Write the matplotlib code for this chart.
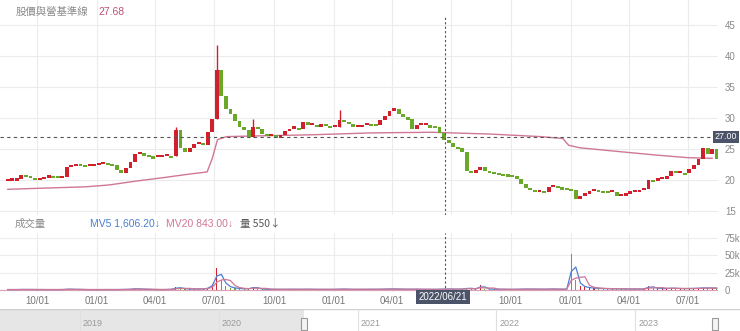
import matplotlib
matplotlib.use("Agg")
import matplotlib.pyplot as plt
import matplotlib.dates as mdates
import matplotlib.transforms as mtrans
from matplotlib.patches import Rectangle
import numpy as np
import pandas as pd

plt.rcParams['font.family'] = ['Liberation Sans', 'Noto Sans CJK TC', 'DejaVu Sans']

# ---------------- data ----------------
start_date = "2020-08-17"
closes = [19.9, 19.9, 20.1, 20.8, 20.6, 20.3, 20.0, 20.2, 20.4, 20.7,
          20.6, 20.3, 20.5, 22.1, 22.3, 22.6, 22.4, 22.2, 22.2, 22.4,
          22.6, 22.7, 22.6, 22.4, 21.6, 21.2, 21.9, 22.9, 24.2, 24.3,
          24.1, 23.8, 23.7, 23.7, 23.8, 23.9, 23.8, 28.0, 25.2, 24.5,
          25.1, 25.8, 26.0, 25.7, 27.7, 29.8, 37.8, 33.5, 31.5, 30.6,
          29.5, 28.5, 28.0, 27.0, 28.6, 28.2, 27.4, 27.1, 27.3, 26.8,
          27.2, 27.9, 28.3, 28.4, 28.3, 29.3, 28.9, 28.9, 28.6, 29.1,
          28.7, 28.5, 28.6, 29.7, 29.4, 29.0, 28.6, 28.6, 28.9, 29.1,
          29.0, 28.8, 29.7, 30.4, 31.2, 31.4, 30.6, 30.1, 29.9, 28.3,
          28.8, 28.8, 28.8, 28.7, 28.6, 27.6, 26.4, 25.9, 25.3, 25.2,
          24.5, 21.5, 21.2, 21.6, 22.1, 21.5, 21.3, 21.2, 21.0, 20.9,
          20.8, 20.6, 20.1, 19.3, 18.7, 18.4, 18.1, 18.2, 18.0, 18.9,
          19.1, 18.8, 18.7, 18.6, 18.4, 17.0, 17.5, 17.7, 18.2, 18.4,
          18.3, 18.2, 18.1, 18.1, 17.4, 17.5, 17.8, 18.0, 18.0, 18.4,
          18.5, 20.0, 19.9, 20.1, 20.2, 20.7, 21.5, 21.1, 21.2, 21.1,
          21.8, 22.5, 23.4, 25.2, 24.2, 25.0, 23.4]
first_open = 19.8
spike_highs = {37: 28.6, 46: 41.8, 54: 29.9, 73: 31.3}

volumes_k = [0.6, 0.5, 0.7, 0.9, 0.6, 0.5, 0.5, 0.6, 0.5, 0.7,
             0.6, 0.5, 0.6, 1.5, 0.9, 0.8, 0.6, 0.5, 0.6, 0.6,
             0.6, 0.7, 0.6, 0.5, 0.7, 0.8, 0.7, 1.4, 2.0, 1.2,
             0.9, 0.8, 0.7, 0.6, 0.6, 0.8, 1.2, 4.0, 2.5, 1.5,
             1.2, 1.5, 1.6, 1.4, 3.5, 9.0, 31.0, 14.0, 6.0, 3.5,
             2.5, 2.0, 1.6, 1.8, 5.0, 1.6, 1.2, 1.0, 0.9, 0.9,
             0.9, 1.0, 1.1, 1.0, 0.9, 1.2, 1.0, 0.9, 0.8, 0.9,
             0.8, 0.8, 0.8, 1.5, 1.1, 0.9, 0.8, 0.8, 0.9, 0.9,
             0.9, 0.8, 1.2, 1.4, 1.5, 1.4, 1.1, 1.0, 0.9, 1.4,
             1.0, 0.9, 0.9, 0.8, 0.8, 1.1, 1.5, 1.3, 1.2, 1.1,
             1.4, 3.0, 1.8, 1.5, 7.0, 1.6, 1.2, 1.1, 1.0, 0.9,
             0.9, 0.9, 1.0, 1.3, 1.4, 1.2, 1.1, 1.0, 1.0, 1.6,
             1.3, 1.1, 1.0, 1.2, 52.0, 14.0, 6.0, 4.0, 3.0, 2.5,
             2.2, 2.0, 1.8, 1.6, 1.8, 1.5, 1.4, 1.3, 1.3, 1.5,
             1.6, 6.0, 3.0, 2.4, 2.0, 2.4, 2.8, 2.2, 2.0, 1.9,
             2.2, 2.4, 2.6, 3.2, 2.6, 2.8, 2.4]

baseline_dates = ["2020-08-17", "2020-10-15", "2020-12-15", "2021-01-20",
                  "2021-03-01", "2021-04-15", "2021-05-20", "2021-06-20",
                  "2021-06-28", "2021-07-06", "2021-07-20", "2021-09-01",
                  "2021-12-01", "2022-03-01", "2022-06-01", "2022-09-01",
                  "2022-11-15", "2022-12-20", "2022-12-29", "2023-01-15",
                  "2023-03-15", "2023-05-15", "2023-07-01", "2023-08-07"]
baseline_vals = [18.5, 18.7, 18.9, 19.2, 19.8, 20.4, 20.9, 21.3,
                 23.5, 26.5, 27.0, 27.1, 27.3, 27.6, 27.7, 27.4,
                 27.0, 26.7, 25.6, 25.2, 24.6, 24.0, 23.6, 23.5]

quarter_ticks = ["2020-10-01", "2021-01-01", "2021-04-01", "2021-07-01",
                 "2021-10-01", "2022-01-01", "2022-04-01", "2022-07-01",
                 "2022-10-01", "2023-01-01", "2023-04-01", "2023-07-01"]
price_ticks = [15, 20, 25, 30, 35, 40, 45]
vol_ticks = [0, 25, 50, 75]
vol_tick_labels = ["0", "25k", "50k", "75k"]
nav_years = [2019, 2020, 2021, 2022, 2023]

title_text = "股價與營基準線"
title_value = "27.68"
cross_date = "2022-06-21"
cross_price = 27.00
mv5_text = "MV5 1,606.20↓"
mv20_text = "MV20 843.00↓"
vol_text = "量 550↓"

# ---------------- styling ----------------
RED = "#d0202e"
GREEN = "#6aa82a"
PINK = "#d07794"
BLUE = "#4a7fd4"
GRID = "#ececec"
TXT = "#8a8a8a"
DARK = "#4b5368"

W, H = 740, 331
fig = plt.figure(figsize=(W / 100, H / 100), dpi=100)
fig.patch.set_facecolor("white")


def px_axes(x0, y0, x1, y1):
    return fig.add_axes([x0 / W, 1 - y1 / H, (x1 - x0) / W, (y1 - y0) / H])


dates = pd.date_range(start_date, periods=len(closes), freq="7D")
dnum = mdates.date2num(dates.to_pydatetime())
closes_a = np.array(closes)
opens_a = np.concatenate([[first_open], closes_a[:-1]])
up = closes_a >= opens_a

xmin = mdates.date2num(pd.Timestamp("2020-08-05"))
xmax = mdates.date2num(pd.Timestamp("2023-08-16"))

# ---------------- price panel ----------------
ax = px_axes(0, 0, 718, 215)
px_per_unit = 6.2
ax.set_ylim(15 - 4 / px_per_unit, 45 + 25 / px_per_unit)
ax.set_xlim(xmin, xmax)
for s in ax.spines.values():
    s.set_visible(False)
ax.set_yticks(price_ticks)
ax.yaxis.tick_right()
ax.tick_params(axis="y", length=0, pad=5, labelsize=7, labelcolor=TXT)
ax.set_xticks(mdates.date2num(pd.to_datetime(quarter_ticks)))
ax.tick_params(axis="x", length=0, labelbottom=False)
ax.grid(True, color=GRID, lw=0.8)
ax.set_axisbelow(True)

body_w = 6.0
min_h = 0.35
heights = closes_a - opens_a
heights = np.where(np.abs(heights) < min_h, np.where(up, min_h, -min_h), heights)
colors = np.where(up, RED, GREEN)
for idx, hi in spike_highs.items():
    lo = min(opens_a[idx], closes_a[idx])
    ax.vlines(dnum[idx], lo, hi, color=colors[idx], lw=1.0, zorder=3)
ax.bar(dnum, heights, bottom=opens_a, width=body_w, color=colors, zorder=3, lw=0)

bd = mdates.date2num(pd.to_datetime(baseline_dates))
ax.plot(bd, baseline_vals, color=PINK, lw=1.0, zorder=2)

cx = mdates.date2num(pd.Timestamp(cross_date))
ax.axhline(cross_price, color="#555555", lw=0.8, ls=(0, (3, 3)), zorder=4)
ax.axvline(cx, color="#555555", lw=0.8, ls=(0, (2, 2)), ymax=0.93, zorder=4)
ax.text(737 / 718, cross_price, f"{cross_price:.2f}",
        transform=mtrans.blended_transform_factory(ax.transAxes, ax.transData),
        ha="right", va="center", fontsize=6.4, color="white", zorder=6,
        bbox=dict(boxstyle="square,pad=0.18", fc=DARK, ec="none"), clip_on=False)

fig.text(16 / W, 1 - 12 / H, title_text, fontsize=7.5, color=TXT, va="center",
         family=["Noto Sans CJK TC", "DejaVu Sans"])
fig.text(98 / W, 1 - 12 / H, title_value, fontsize=7.5, color="#c0507a", va="center")

# ---------------- volume panel ----------------
vax = px_axes(0, 233, 718, 292)
vax.set_xlim(xmin, xmax)
vax.set_ylim(-2.9, 82)
for s in vax.spines.values():
    s.set_visible(False)
vax.set_yticks(vol_ticks)
vax.set_yticklabels(vol_tick_labels)
vax.yaxis.tick_right()
vax.tick_params(axis="y", length=0, pad=5, labelsize=7, labelcolor=TXT)
qn = mdates.date2num(pd.to_datetime(quarter_ticks))
vax.set_xticks(qn)
vax.set_xticklabels([pd.Timestamp(q).strftime("%m/%d") if q != "2022-07-01" else ""
                     for q in quarter_ticks])
vax.tick_params(axis="x", length=0, pad=3, labelsize=7, labelcolor="#777777")
vax.grid(True, color=GRID, lw=0.8)
vax.set_axisbelow(True)

vol_a = np.array(volumes_k)
vax.bar(dnum, vol_a, width=1.6, color=colors, lw=0, zorder=3)
mv5 = pd.Series(vol_a).rolling(2, min_periods=1).mean().values
mv20 = pd.Series(vol_a).rolling(4, min_periods=1).mean().values
vax.plot(dnum, mv5, color=BLUE, lw=0.9, zorder=4)
vax.plot(dnum, mv20, color=PINK, lw=0.9, zorder=4)
vax.axhline(0, color="#d9a0b5", lw=0.8, zorder=2)
vax.axvline(cx, color="#555555", lw=0.8, ls=(0, (2, 2)), zorder=4)

fig.text(443 / W, 1 - 297 / H, "2022/06/21", ha="center", va="center",
         fontsize=7, color="white",
         bbox=dict(boxstyle="square,pad=0.25", fc=DARK, ec="none"))

fig.text(15 / W, 1 - 224 / H, "成交量", fontsize=7.5, color=TXT, va="center",
         family=["Noto Sans CJK TC", "DejaVu Sans"])
fig.text(90 / W, 1 - 224 / H, mv5_text, fontsize=7.5, color=BLUE, va="center")
fig.text(166 / W, 1 - 224 / H, mv20_text, fontsize=7.5, color=PINK, va="center")
fig.text(240 / W, 1 - 224 / H, vol_text, fontsize=7.5, color="#555555", va="center",
         family=["Noto Sans CJK TC", "DejaVu Sans"])

# ---------------- navigator ----------------
nax = px_axes(0, 309, 740, 345)
n0 = 2019 - 80 / 139
n1 = 2023 + 105 / 139
nax.set_xlim(n0, n1)
nax.set_ylim(0, 1)
nax.axis("off")
nax.add_patch(Rectangle((n0, 0), (2020 + 85 / 139) - n0, 1, color="#e6e6e6", lw=0))
nax.axhline(1.0, color="#cfcfcf", lw=1.0)
for yv in nav_years:
    nax.axvline(yv, color="#e0e0e0", lw=0.8)
    nax.text(yv + 3 / 139, 0.46, str(yv), fontsize=6.5, color="#999999", va="bottom")
for hx in [2020 + 85 / 139, 2023 + 80 / 139]:
    nax.add_patch(Rectangle((hx - 3 / 139, 0.42), 6 / 139, 0.33,
                            fc="#f4f4f4", ec="#999999", lw=0.8, zorder=5))

fig.savefig("out.png", dpi=100, facecolor="white")
